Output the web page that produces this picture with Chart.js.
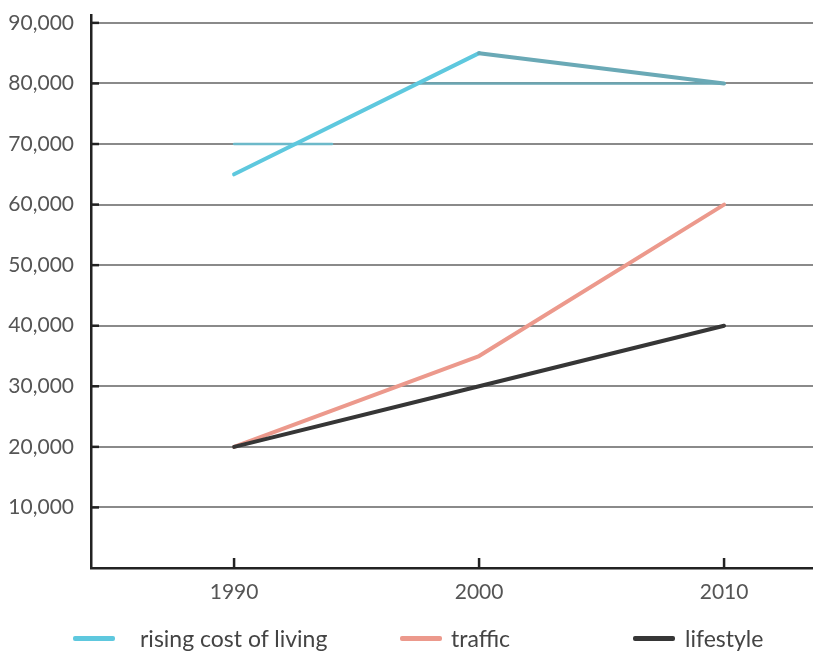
<!DOCTYPE html>
<html>
<head>
<meta charset="utf-8">
<script src="https://cdn.jsdelivr.net/npm/chart.js@4.4.1/dist/chart.umd.min.js"></script>
<style>
  html, body { margin: 0; padding: 0; background: #ffffff; }
  #wrap { position: relative; width: 813px; height: 654px; overflow: hidden; }
  #c { position: absolute; left: 0; top: 0; }
  .lg-line { position: absolute; height: 5px; border-radius: 2px; }
  .lg-text { position: absolute; font-family: Lato, 'Open Sans', sans-serif; font-size: 23px; color: #444; white-space: nowrap; line-height: 1; }
</style>
</head>
<body>
<div id="wrap">
  <canvas id="c" width="813" height="654"></canvas>
  <div id="legend"></div>
</div>
<script>
// ---- data ----
const years = [1990, 2000, 2010];
const costOfLiving = [65000, 85000, 80000];
const traffic = [20000, 35000, 60000];
const lifestyle = [20000, 30000, 40000];
const yTickValues = [10000, 20000, 30000, 40000, 50000, 60000, 70000, 80000, 90000];
const seriesLabels = ['rising cost of living', 'traffic', 'lifestyle'];
// faint coloured traces lying on the 70,000 and 80,000 grid lines in the original
const traceA_years = [1990, 1994];
const traceA_values = [70000, 70000];
const traceB_years = [1997.5, 2010];
const traceB_values = [80000, 80000];

// ---- styles ----
const colCost = '#5ec8de';
const colCost2 = '#6aa9b6';
const colTraffic = '#ec998c';
const colLife = '#363636';

const toPts = (xs, ys) => xs.map((x, i) => ({ x: x, y: ys[i] }));

const insideTicks = {
  id: 'insideTicks',
  afterDraw(chart) {
    const ctx = chart.ctx;
    const xs = chart.scales.x, ys = chart.scales.y;
    const a = chart.chartArea;
    ctx.save();
    ctx.strokeStyle = '#222';
    ctx.lineWidth = 2.5;
    yTickValues.forEach(v => {
      const py = ys.getPixelForValue(v);
      ctx.beginPath(); ctx.moveTo(a.left, py); ctx.lineTo(a.left + 8, py); ctx.stroke();
    });
    years.forEach(v => {
      const px = xs.getPixelForValue(v);
      ctx.beginPath(); ctx.moveTo(px, a.bottom); ctx.lineTo(px, a.bottom - 10); ctx.stroke();
    });
    ctx.restore();
  }
};

Chart.defaults.font.family = 'Lato, "Open Sans", sans-serif';
Chart.defaults.color = '#555';

const chart = new Chart(document.getElementById('c'), {
  type: 'line',
  data: {
    datasets: [
      {
        label: seriesLabels[0],
        data: toPts(years, costOfLiving),
        borderColor: colCost,
        segment: { borderColor: c => c.p0DataIndex === 1 ? colCost2 : colCost },
        borderWidth: 4, order: 1
      },
      { label: seriesLabels[1], data: toPts(years, traffic), borderColor: colTraffic, borderWidth: 4, order: 2 },
      { label: seriesLabels[2], data: toPts(years, lifestyle), borderColor: colLife, borderWidth: 4, order: 0 },
      { label: '', data: toPts(traceA_years, traceA_values), borderColor: '#6db9c9', borderWidth: 2.5, order: 5 },
      { label: '', data: toPts(traceB_years, traceB_values), borderColor: '#6aa6b3', borderWidth: 2.5, order: 5 }
    ]
  },
  options: {
    responsive: false,
    animation: false,
    devicePixelRatio: 1,
    layout: { padding: { top: 15, right: 0, bottom: 46, left: 0 } },
    elements: {
      point: { radius: 0, hoverRadius: 0 },
      line: { tension: 0, borderCapStyle: 'round', borderJoinStyle: 'round' }
    },
    plugins: { legend: { display: false }, tooltip: { enabled: false } },
    scales: {
      x: {
        type: 'linear',
        min: 1984.16,
        max: 2013.63,
        afterBuildTicks: s => { s.ticks = years.map(v => ({ value: v })); },
        afterFit: s => { s.height = 40; s.paddingLeft = 0; s.paddingRight = 0; },
        grid: { display: false, drawTicks: false },
        border: { display: true, color: '#222', width: 2.5 },
        ticks: { padding: 12, font: { size: 21 }, color: '#555', callback: v => String(v) }
      },
      y: {
        type: 'linear',
        min: 0,
        max: 91300,
        afterBuildTicks: s => { s.ticks = yTickValues.map(v => ({ value: v })); },
        afterFit: s => { s.width = 91; s.paddingTop = 0; s.paddingBottom = 0; },
        grid: { color: '#8a8a8a', lineWidth: 2, drawTicks: false },
        border: { display: true, color: '#222', width: 2.5 },
        ticks: { padding: 17, font: { size: 21 }, color: '#555', callback: v => Number(v).toLocaleString('en-US') }
      }
    }
  },
  plugins: [insideTicks]
});

// ---- HTML legend ----
const legendItems = [
  { label: seriesLabels[0], color: colCost, lineX: 73, textX: 140 },
  { label: seriesLabels[1], color: colTraffic, lineX: 400, textX: 451 },
  { label: seriesLabels[2], color: colLife, lineX: 633, textX: 685 }
];
const lg = document.getElementById('legend');
legendItems.forEach(it => {
  const l = document.createElement('div');
  l.className = 'lg-line';
  l.style.left = it.lineX + 'px'; l.style.top = '636px'; l.style.width = '42px';
  l.style.background = it.color;
  lg.appendChild(l);
  const t = document.createElement('div');
  t.className = 'lg-text';
  t.style.left = it.textX + 'px'; t.style.top = '627px';
  t.textContent = it.label;
  lg.appendChild(t);
});
</script>
</body>
</html>
